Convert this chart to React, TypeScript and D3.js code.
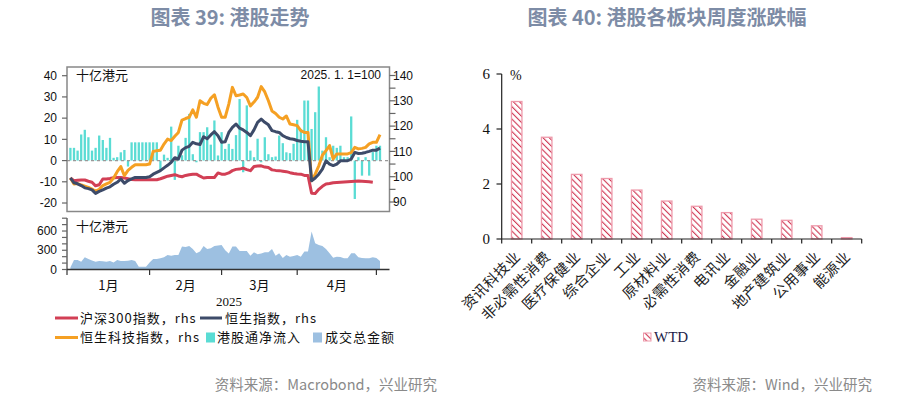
import React from 'react';
import * as d3 from 'd3';

// ---------- Chart 39 data (weekday index 0 = 2025-01-02) ----------
const hsi = [
  99.5, 97.6, 97.2, 96.5, 95.6, 95.3, 94.8, 93.4, 94.2, 94.8,
  95.5, 96.0, 97.0, 97.8, 99.1, 97.4, 98.5, 99.1, 99.7, 99.7,
  99.7, 99.7, 100.0, 101.0, 101.7, 102.4, 103.5, 104.5, 105.7, 107.5,
  107.0, 110.5, 111.5, 112.0, 113.6, 113.0, 112.7, 115.8, 115.0, 116.5,
  117.8, 116.2, 113.6, 113.8, 117.5, 119.5, 120.8, 119.2, 118.5, 117.5,
  116.2, 118.5, 121.5, 122.8, 121.5, 120.5, 118.2, 117.8, 117.5, 116.2,
  115.5, 115.0, 114.8, 114.3, 114.0, 113.8, 113.8, 98.4, 99.5, 101.0,
  103.0, 106.3, 105.0, 104.4, 105.0, 106.3, 106.3, 106.3, 107.0, 109.6,
  109.2, 109.3, 109.6, 110.0, 110.5, 110.5, 111.3,
];
const hstech = [
  99.5, 97.1, 97.3, 96.8, 96.3, 95.8, 95.1, 94.2, 95.0, 96.5,
  97.2, 97.8, 99.5, 102.0, 104.0, 100.4, 102.5, 103.7, 104.7, 104.7,
  104.7, 104.7, 105.0, 110.0, 110.3, 110.5, 112.9, 114.9, 114.3, 116.0,
  117.5, 122.4, 123.0, 123.5, 126.4, 123.5, 130.0, 129.0, 128.5, 131.0,
  132.4, 127.5, 123.5, 123.5, 128.7, 135.3, 132.0, 132.3, 132.7, 131.3,
  128.0, 129.5, 131.4, 135.6, 133.5, 130.0, 126.0, 125.0, 123.5, 122.8,
  124.0, 120.8, 120.5, 120.2, 118.2, 117.5, 117.5, 98.4, 101.0, 104.3,
  108.5, 110.3, 112.3, 107.0, 109.0, 109.0, 109.0, 109.0, 109.5, 111.6,
  111.0, 111.2, 111.6, 113.0, 113.6, 113.6, 116.6,
];
const csi300 = [
  99.5, 98.4, 98.6, 98.7, 98.7, 98.2, 97.8, 96.4, 96.8, 99.1,
  99.1, 99.3, 99.6, 99.7, 99.7, 99.5, 99.2, 98.9, 98.8, 98.8,
  98.8, 98.8, 98.8, 98.8, 98.8, 99.2, 99.7, 100.2, 100.5, 100.8,
  100.3, 100.0, 100.5, 100.8, 101.0, 101.0, 100.2, 99.5, 99.7, 99.7,
  99.7, 101.5, 101.0, 101.0, 101.5, 102.4, 102.9, 103.0, 103.4, 102.8,
  102.4, 104.0, 104.2, 104.3, 103.8, 103.6, 102.7, 102.5, 102.4, 102.2,
  102.0, 101.6, 101.3, 101.1, 101.0, 100.5, 100.5, 93.5, 93.4, 95.0,
  96.2, 97.1, 97.3, 97.6, 97.7, 97.8, 97.9, 98.0, 98.1, 98.2,
  98.3, 98.2, 98.1, 98.0, 97.8,
];
const southbound = [
  6, 6, 4.7, 12.3, 14.5, 11, 4.7, 6, 11.8, 9.7,
  6, 10.7, 1.3, 1.6, 3.9, 5, -2.8, 8.6, 8.6, 8.6,
  8.6, 8.6, 8.6, 8.6, 8.6, -4.7, 2.8, 1.3, 16, -9.1,
  7, 2.5, 10.7, 22, 3, -0.8, 13.4, 13.4, 15.7, 7.5,
  18.9, 2.4, 13.4, 5.5, 7.9, 5.5, 12, 29, -5.5, 26,
  4.7, 1.6, 10.3, -0.8, 11, 3, 1.6, 1.9, 11.8, 8.2,
  3.9, 3.5, 7.9, 19.2, 14.9, 28.3, 28.3, 14.9, 22.8, 34.9,
  4.7, 11, 1.6, 7, 6, 7, 1.6, 1.6, 20.8, -18.1,
  1.6, -7.1, 1.6, -7.1, 4, 7, 7,
];
const turnover = [
  30, 147, 150, 121, 190, 165, 140, 121, 131, 130,
  121, 131, 110, 147, 131, 131, 137, 147, 131, 42,
  42, 42, 110, 163, 163, 175, 190, 226, 216, 226,
  226, 358, 350, 368, 320, 252, 280, 368, 321, 330,
  365, 373, 384, 300, 250, 358, 358, 290, 290, 290,
  216, 268, 237, 250, 268, 268, 321, 216, 252, 180,
  226, 200, 210, 226, 200, 279, 279, 594, 410, 384,
  368, 320, 252, 184, 200, 195, 174, 174, 252, 252,
  190, 180, 174, 174, 190, 180, 131,
];
const monthTickIdx = [-1, 22, 42, 63, 85];
const monthLabels = ['1月', '2月', '3月', '4月'];
const leftTicks = [-20, -10, 0, 10, 20, 30, 40];
const rightTicks = [90, 100, 110, 120, 130, 140];
const rightMinor = [95, 105, 115, 125, 135];
const volTicks = [0, 300, 600];
const volMinor = [100, 200, 400, 500, 700, 800];

// ---------- Chart 40 data ----------
const sectors = ['资讯科技业', '非必需性消费', '医疗保健业', '综合企业', '工业', '原材料业', '必需性消费', '电讯业', '金融业', '地产建筑业', '公用事业', '能源业'];
const wtd = [5.0, 3.7, 2.35, 2.2, 1.78, 1.38, 1.19, 0.96, 0.72, 0.68, 0.48, 0.05];
const pctTicks = [0, 2, 4, 6];

const RED = '#d23f55';
const NAVY = '#3d4b69';
const ORANGE = '#f5a023';
const TEAL = '#5adcd4';
const LBLUE = '#9dc0e1';
const CJK = '"Noto Sans CJK SC", "Liberation Sans", sans-serif';
const SANS = '"Liberation Sans", "Noto Sans CJK SC", sans-serif';
const SERIF = '"Liberation Serif", "Noto Sans CJK SC", serif';

export default function App() {
  const L = 67, R = 389.5, T = 67, B = 211.5;
  const x = d3.scaleLinear().domain([-0.944, 88.64]).range([L, R]);
  const yL = d3.scaleLinear().domain([-24, 44.1]).range([B, T]);
  const yR = d3.scaleLinear().domain([86.25, 143.36]).range([B, T]);
  const yV = d3.scaleLinear().domain([0, 800]).range([269.5, 218.2]);
  const mkLine = (arr: number[]) =>
    d3.line<number>().x((_, i) => x(i)).y((d) => yR(d))(arr) || '';
  const areaPath =
    d3.area<number>().x((_, i) => x(i)).y0(yV(0)).y1((d) => yV(d))(turnover) || '';
  const barW = 2.3;

  const xb = d3.scaleBand<string>().domain(sectors).range([501.7, 861.7]).padding(0);
  const yb = d3.scaleLinear().domain([0, 6]).range([239, 74]);
  const bw = xb.bandwidth();

  const axisCol = '#666';
  const legFs = 13;
  const legLs = 1;
  const row1 = 318;
  const row2 = 337.5;

  return (
    <svg width={908} height={398} style={{ position: 'absolute', left: 0, top: 0, background: '#fff' }}>
      <defs>
        <pattern id="hatch" patternUnits="userSpaceOnUse" width="4.4" height="4.4" patternTransform="rotate(-45)">
          <rect width="4.4" height="4.4" fill="#fff" />
          <line x1="0" y1="0" x2="0" y2="4.4" stroke="#cf3552" strokeWidth="2.2" />
        </pattern>
        <clipPath id="mainclip">
          <rect x={L} y={T} width={R - L} height={B - T} />
        </clipPath>
      </defs>

      <text x={230} y={25} textAnchor="middle" fontFamily={CJK} fontWeight="bold" fontSize={20} fill="#7d8ca6">图表 39: 港股走势</text>
      <text x={667} y={25} textAnchor="middle" fontFamily={CJK} fontWeight="bold" fontSize={20} fill="#7d8ca6">图表 40: 港股各板块周度涨跌幅</text>

      {/* ===== Left chart: main panel ===== */}
      <g clipPath="url(#mainclip)">
        {southbound.map((v, i) => (
          <rect key={i} x={x(i) - barW / 2} y={Math.min(yL(v), yL(0))} width={barW}
            height={Math.abs(yL(v) - yL(0))} fill={TEAL} />
        ))}
        <line x1={L} x2={R} y1={yL(0)} y2={yL(0)} stroke="#999" strokeDasharray="3,3" strokeWidth={1.2} />
        <path d={mkLine(csi300)} fill="none" stroke={RED} strokeWidth={3} strokeLinejoin="round" />
        <path d={mkLine(hstech)} fill="none" stroke={ORANGE} strokeWidth={3} strokeLinejoin="round" />
        <path d={mkLine(hsi)} fill="none" stroke={NAVY} strokeWidth={3} strokeLinejoin="round" />
      </g>
      <rect x={L} y={T} width={R - L} height={B - T} fill="none" stroke="#888" strokeWidth={1.5} />

      {leftTicks.map((t) => (
        <g key={t}>
          <line x1={L - 5} x2={L} y1={yL(t)} y2={yL(t)} stroke={axisCol} strokeWidth={1.2} />
          <text x={57} y={yL(t)} dy="0.35em" textAnchor="end" fontFamily={SANS} fontSize={12} fill="#111">{t}</text>
        </g>
      ))}
      {rightTicks.map((t) => (
        <g key={t}>
          <line x1={R} x2={R + 6} y1={yR(t)} y2={yR(t)} stroke={axisCol} strokeWidth={1.2} />
          <text x={393} y={yR(t)} dy="0.35em" textAnchor="start" fontFamily={SANS} fontSize={12} fill="#111">{t}</text>
        </g>
      ))}
      {rightMinor.map((t) => (
        <line key={t} x1={R} x2={R + 6} y1={yR(t)} y2={yR(t)} stroke={axisCol} strokeWidth={1.2} />
      ))}
      <text x={76} y={75} dy="0.35em" fontFamily={CJK} fontSize={13} fill="#111">十亿港元</text>
      <text x={381} y={75} dy="0.35em" textAnchor="end" fontFamily={SANS} fontSize={12} fill="#111">2025. 1. 1=100</text>

      {/* ===== Left chart: lower panel ===== */}
      <path d={areaPath} fill={LBLUE} />
      <line x1={L} x2={L} y1={218} y2={269.5} stroke={axisCol} strokeWidth={1.5} />
      <line x1={L} x2={R} y1={269.5} y2={269.5} stroke="#333" strokeWidth={1.5} />
      {volTicks.map((t) => (
        <g key={t}>
          <line x1={L - 5} x2={L} y1={yV(t)} y2={yV(t)} stroke={axisCol} strokeWidth={1.2} />
          <text x={57} y={yV(t)} dy="0.35em" textAnchor="end" fontFamily={SANS} fontSize={12} fill="#111">{t}</text>
        </g>
      ))}
      {volMinor.map((t) => (
        <line key={t} x1={L - 5} x2={L} y1={yV(t)} y2={yV(t)} stroke={axisCol} strokeWidth={1.2} />
      ))}
      <text x={76} y={226} dy="0.35em" fontFamily={CJK} fontSize={13} fill="#111">十亿港元</text>
      {monthTickIdx.map((m, i) => (
        <line key={i} x1={Math.max(x(m), L)} x2={Math.max(x(m), L)} y1={269.5} y2={275} stroke="#333" strokeWidth={1.2} />
      ))}
      {monthLabels.map((lab, i) => (
        <text key={lab} x={(Math.max(x(monthTickIdx[i]), L) + x(monthTickIdx[i + 1])) / 2} y={290}
          textAnchor="middle" fontFamily={CJK} fontSize={13} fill="#111">{lab}</text>
      ))}
      <text x={229} y={306} textAnchor="middle" fontFamily={SERIF} fontSize={13} fill="#111">2025</text>

      {/* legend */}
      <line x1={55} x2={78} y1={row1} y2={row1} stroke={RED} strokeWidth={3} />
      <text x={80} y={row1} dy="0.35em" fontFamily={CJK} fontSize={legFs} letterSpacing={legLs} fill="#111">沪深300指数，rhs</text>
      <line x1={200} x2={222} y1={row1} y2={row1} stroke={NAVY} strokeWidth={3} />
      <text x={225} y={row1} dy="0.35em" fontFamily={CJK} fontSize={legFs} letterSpacing={legLs} fill="#111">恒生指数，rhs</text>
      <line x1={55} x2={78} y1={row2} y2={row2} stroke={ORANGE} strokeWidth={3} />
      <text x={80} y={row2} dy="0.35em" fontFamily={CJK} fontSize={legFs} letterSpacing={legLs} fill="#111">恒生科技指数，rhs</text>
      <rect x={206} y={row2 - 5} width={9} height={10} fill={TEAL} />
      <text x={217} y={row2} dy="0.35em" fontFamily={CJK} fontSize={legFs} letterSpacing={legLs} fill="#111">港股通净流入</text>
      <rect x={313} y={row2 - 5} width={9} height={10} fill={LBLUE} />
      <text x={325} y={row2} dy="0.35em" fontFamily={CJK} fontSize={legFs} letterSpacing={legLs} fill="#111">成交总金额</text>

      <text x={437} y={390} textAnchor="end" fontFamily={CJK} fontSize={14.5} fill="#8a8a8a">资料来源：Macrobond，兴业研究</text>

      {/* ===== Right chart ===== */}
      {sectors.map((s, i) => (
        <rect key={s} x={(xb(s) as number) + bw * 0.325} y={yb(wtd[i])} width={bw * 0.35}
          height={yb(0) - yb(wtd[i])} fill="url(#hatch)" stroke="#ee9aab" strokeWidth={1.3} />
      ))}
      <line x1={501.7} x2={501.7} y1={74} y2={239} stroke="#222" strokeWidth={1.2} />
      <line x1={501.7} x2={861.7} y1={239} y2={239} stroke="#222" strokeWidth={1.2} />
      {pctTicks.map((t) => (
        <g key={t}>
          <line x1={496.5} x2={501.7} y1={yb(t)} y2={yb(t)} stroke="#222" strokeWidth={1.2} />
          <text x={490} y={yb(t)} dy="0.35em" textAnchor="end" fontFamily={SERIF} fontSize={15} fill="#111">{t}</text>
        </g>
      ))}
      {[...sectors.map((s) => xb(s) as number), 861.7].map((p, i) => (
        <line key={i} x1={p} x2={p} y1={239} y2={243.5} stroke="#222" strokeWidth={1.2} />
      ))}
      <text x={510} y={80} fontFamily={SERIF} fontSize={14} fill="#111">%</text>
      {sectors.map((s) => (
        <text key={s} transform={`translate(${(xb(s) as number) + bw / 2 + 1},${254}) rotate(-45)`}
          textAnchor="end" dy="0.35em" fontFamily={CJK} fontSize={14.5} letterSpacing={0.5} fill="#222">{s}</text>
      ))}
      <rect x={643.5} y={333} width={7.5} height={8} fill="url(#hatch)" stroke="#ee9aab" strokeWidth={1} />
      <text x={654} y={342} fontFamily={SERIF} fontSize={15} fill="#1e1e4a">WTD</text>

      <text x={872} y={390} textAnchor="end" fontFamily={CJK} fontSize={14.5} fill="#8a8a8a">资料来源：Wind，兴业研究</text>
    </svg>
  );
}
